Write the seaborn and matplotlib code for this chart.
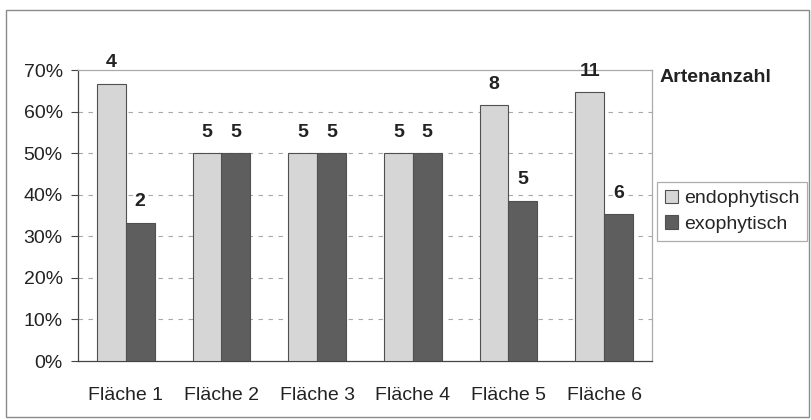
import numpy as np
import pandas as pd
import matplotlib
matplotlib.use("Agg")
import matplotlib.pyplot as plt
from matplotlib.patches import Rectangle
from matplotlib.ticker import PercentFormatter
import seaborn as sns

# Daten aus der Abbildung
flaechen = ["Fläche 1", "Fläche 2", "Fläche 3", "Fläche 4", "Fläche 5", "Fläche 6"]
typen = ["endophytisch", "exophytisch"]
anteil_endo = [66.7, 50.0, 50.0, 50.0, 61.5, 64.7]
anteil_exo = [33.3, 50.0, 50.0, 50.0, 38.5, 35.3]
arten_endo = [4, 5, 5, 5, 8, 11]
arten_exo = [2, 5, 5, 5, 5, 6]

df = pd.DataFrame({
    "Fläche": flaechen * 2,
    "Typ": [typen[0]] * 6 + [typen[1]] * 6,
    "Anteil": anteil_endo + anteil_exo,
})

sns.set_theme(style="white")
plt.rcParams["font.family"] = ["Liberation Sans", "DejaVu Sans"]

fig = plt.figure(figsize=(8.11, 4.20), dpi=100)
ax = fig.add_axes([78 / 811, 1 - 361 / 420, (652 - 78) / 811, (361 - 70) / 420])

sns.barplot(data=df, x="Fläche", y="Anteil", hue="Typ", order=flaechen, hue_order=typen,
            palette=["#d6d6d6", "#5e5e5e"], width=0.6, edgecolor="#505050",
            linewidth=0.8, saturation=1, ax=ax, zorder=3)

# Artenanzahl über den Balken
for cont, zahlen in zip(ax.containers, [arten_endo, arten_exo]):
    ax.bar_label(cont, labels=[str(z) for z in zahlen], padding=9,
                 fontsize=14, fontweight="bold", color="#222222")

ax.set_ylim(0, 70)
ax.set_xlim(-0.5, 5.5)
ax.set_yticks(np.arange(0, 71, 10))
ax.yaxis.set_major_formatter(PercentFormatter(xmax=100, decimals=0))
ax.set_xlabel("")
ax.set_ylabel("")

# gestrichelte Gitterlinien
for v in range(10, 70, 10):
    ax.axhline(v, color="#a8a8a8", lw=0.8, ls=(0, (4, 5)), zorder=1)

ax.set_xticks(np.arange(-0.5, 6, 1), minor=True)
ax.tick_params(axis="x", which="major", length=0, labelsize=14, colors="#222222", pad=19)
ax.tick_params(axis="x", which="minor", length=5, width=0.8, color="#444444", direction="out")
ax.tick_params(axis="y", which="major", length=5, width=0.8, color="#444444",
               direction="out", labelsize=14, labelcolor="#222222", pad=6, left=True)

for s in ["left", "bottom"]:
    ax.spines[s].set_color("#444444")
    ax.spines[s].set_linewidth(0.9)
for s in ["top", "right"]:
    ax.spines[s].set_color("#aaaaaa")
    ax.spines[s].set_linewidth(0.9)

handles, labels = ax.get_legend_handles_labels()
ax.get_legend().remove()
leg = fig.legend(handles, labels, loc="upper left", bbox_to_anchor=(657 / 811, 1 - 182 / 420),
                 frameon=True, fancybox=False, edgecolor="#999999", fontsize=14,
                 handlelength=0.7, handleheight=0.7, handletextpad=0.3,
                 borderpad=0.4, labelspacing=0.4, borderaxespad=0)
leg.get_frame().set_linewidth(0.9)

fig.text(660 / 811, 1 - 77 / 420, "Artenanzahl", fontsize=14, fontweight="bold",
         va="center", ha="left", color="#222222")

fig.add_artist(Rectangle((6 / 811, 1 - 417 / 420), (809 - 6) / 811, (417 - 10) / 420,
                         transform=fig.transFigure, fill=False, ec="#8a8a8a", lw=1))

fig.savefig("out.png", dpi=100)
